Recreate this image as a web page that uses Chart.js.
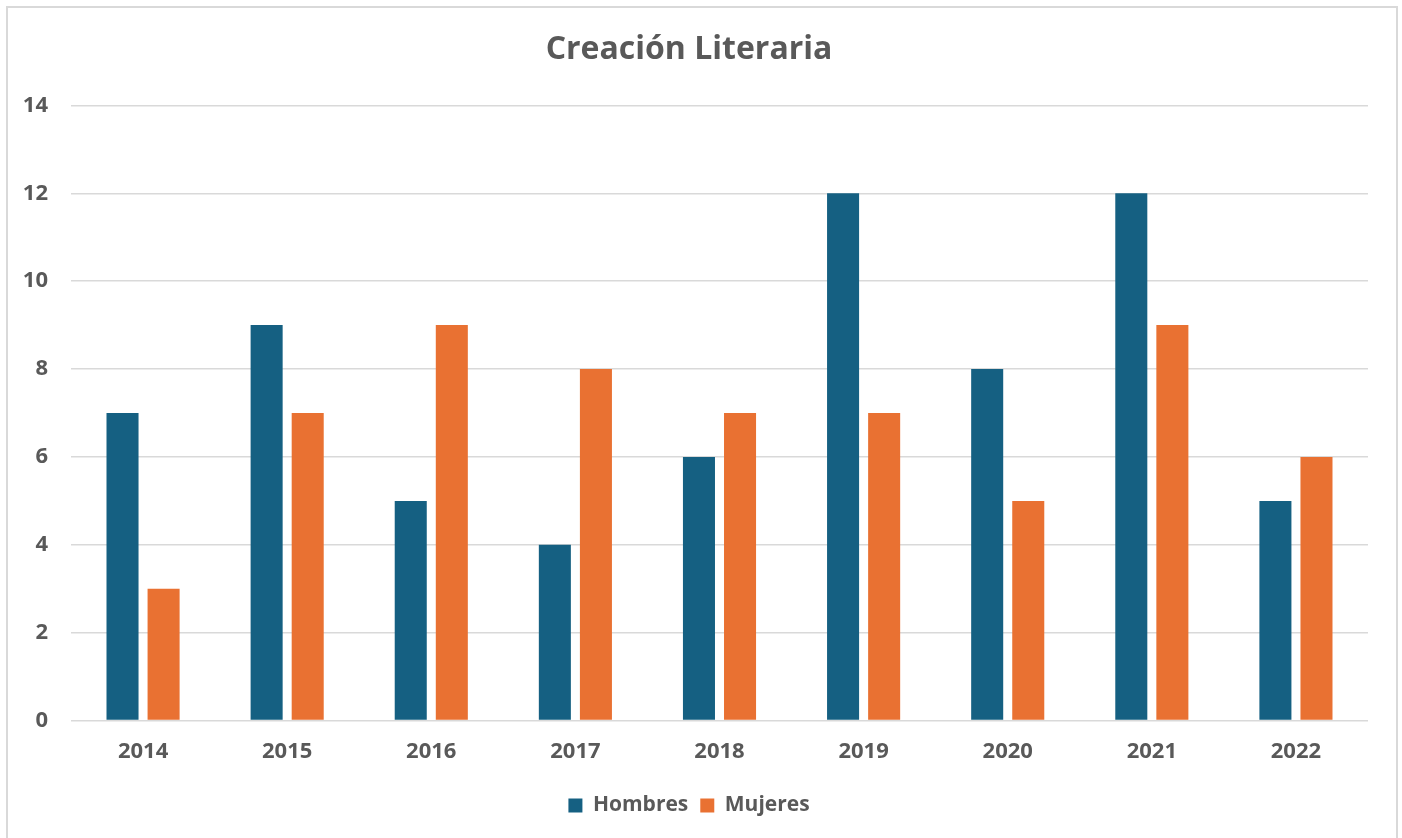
<!DOCTYPE html>
<html>
<head>
<meta charset="utf-8">
<script src="https://cdn.jsdelivr.net/npm/chart.js@4/dist/chart.umd.min.js"></script>
<style>
  body { margin: 0; background: #fff; overflow: hidden; }
  #frame {
    position: absolute; left: 6px; top: 6px; width: 1388px; height: 850px;
    border: 2px solid #d9d9d9;
  }
  #wrap { position: absolute; left: 0; top: 0; width: 1402px; height: 838px; }
</style>
</head>
<body>
<div id="frame"></div>
<div id="wrap"><canvas id="chart"></canvas></div>
<script>
const years = ["2014", "2015", "2016", "2017", "2018", "2019", "2020", "2021", "2022"];
const hombres = [7, 9, 5, 4, 6, 12, 8, 12, 5];
const mujeres = [3, 7, 9, 8, 7, 7, 5, 9, 6];

const textColor = "#595959";
const fontFamily = "'Open Sans', 'Liberation Sans', Arial, sans-serif";

let ctx = document.getElementById("chart");

new Chart(ctx, {
  type: "bar",
  data: {
    labels: years,
    datasets: [
      { label: "Hombres", data: hombres, backgroundColor: "#156082" },
      { label: "Mujeres", data: mujeres, backgroundColor: "#E97132" },
    ],
  },
  options: {
    responsive: true,
    maintainAspectRatio: false,
    animation: false,
    datasets: {
      bar: { categoryPercentage: 0.57, barPercentage: 0.78 },
    },
    layout: { padding: { left: 10, right: 34, top: 0, bottom: 12 } },
    plugins: {
      title: {
        display: true,
        text: "Creación Literaria",
        color: textColor,
        font: { family: fontFamily, size: 32, weight: "bold" },
        padding: { top: 31, bottom: 36 },
      },
      legend: {
        position: "bottom",
        labels: {
          color: textColor,
          font: { family: fontFamily, size: 21, weight: "bold" },
          boxWidth: 14,
          boxHeight: 14,
          padding: 12,
        },
      },
      tooltip: { enabled: false },
    },
    scales: {
      x: {
        grid: { display: false, drawTicks: false },
        border: { display: false },
        ticks: {
          color: textColor,
          padding: 18,
          font: { family: fontFamily, size: 22, weight: "bold" },
        },
      },
      y: {
        min: 0,
        max: 14,
        grid: { color: "#d9d9d9", lineWidth: 1.5, drawTicks: false },
        border: { display: false },
        ticks: {
          stepSize: 2,
          color: textColor,
          padding: 23,
          font: { family: fontFamily, size: 22, weight: "bold" },
        },
        afterFit: (scale) => {
          scale.width = 61;
        },
      },
    },
  },
});
</script>
</body>
</html>
